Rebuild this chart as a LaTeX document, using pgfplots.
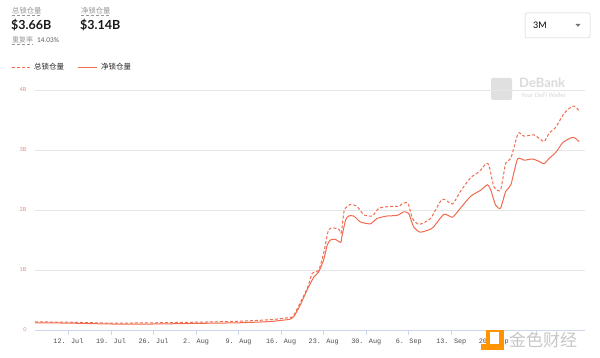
\documentclass[border=0pt]{standalone}
\usepackage{pgfplots}
\pgfplotsset{compat=1.18}
\usepackage{fontspec}
\setmainfont{Lato}
\newfontfamily\cjk{Noto Sans CJK SC}
\newfontfamily\mono{Liberation Mono}
\definecolor{tvlcol}{RGB}{240,108,78}
\definecolor{ylab}{RGB}{232,140,130}
\definecolor{gridc}{RGB}{230,230,230}
\definecolor{axc}{RGB}{204,214,235}
\definecolor{hgray}{RGB}{150,150,150}
\begin{document}
\begin{tikzpicture}[x=1pt,y=1pt]
\useasboundingbox (0,0) rectangle (600,358);
\fill[white] (0,0) rectangle (600,358);
% header
\node[anchor=base west,inner sep=0pt,text=hgray] at (12,344) {\cjk\fontsize{7.3}{8}\selectfont 总锁仓量};
\draw[hgray,densely dashed,line width=0.4pt] (12,342.5) -- (41,342.5);
\node[anchor=base west,inner sep=0pt,text=hgray] at (81,344) {\cjk\fontsize{7.3}{8}\selectfont 净锁仓量};
\draw[hgray,densely dashed,line width=0.4pt] (81,342.5) -- (110,342.5);
\node[anchor=base west,inner sep=0pt,text=black!90] at (11,328) {\fontsize{12.5}{15}\selectfont\bfseries\$3.66B};
\node[anchor=base west,inner sep=0pt,text=black!90] at (80,328) {\fontsize{12.5}{15}\selectfont\bfseries\$3.14B};
\node[anchor=base west,inner sep=0pt,text=hgray] at (12,315) {\cjk\fontsize{7}{8}\selectfont 重复率};
\draw[hgray,densely dashed,line width=0.4pt] (12,313.5) -- (33,313.5);
\node[anchor=base west,inner sep=0pt,text=black!65] at (37,315.5) {\fontsize{6.5}{8}\selectfont 14.03\%};
% legend
\draw[tvlcol,line width=1.3pt,dash pattern=on 3pt off 2pt] (12,290.5) -- (31,290.5);
\node[anchor=west,inner sep=0pt,text=black!85] at (34,291) {\cjk\fontsize{7.5}{8}\selectfont 总锁仓量};
\draw[tvlcol,line width=1.3pt] (78,290.5) -- (97,290.5);
\node[anchor=west,inner sep=0pt,text=black!85] at (101,291) {\cjk\fontsize{7.5}{8}\selectfont 净锁仓量};
% 3M selector
\draw[black!18,rounded corners=2pt,line width=0.5pt] (525,320) rectangle (590,345);
\node[anchor=west,inner sep=0pt] at (533,332.5) {\fontsize{9}{10}\selectfont 3M};
\fill[black!55] (575.5,334) -- (580.5,334) -- (578,331.2) -- cycle;
% DeBank watermark
\fill[black!12,rounded corners=2pt] (491,258) rectangle (512,280);
\node[anchor=base west,inner sep=0pt,text=black!14] at (519,270) {\fontsize{13}{15}\selectfont\bfseries DeBank};
\node[anchor=base west,inner sep=0pt,text=black!16] at (521,260) {\fontsize{6}{7}\selectfont Your DeFi Wallet};
\begin{axis}[
  at={(35pt,28pt)}, anchor=south west,
  scale only axis, width=550pt, height=240pt,
  xmin=-5.5, xmax=85, ymin=0, ymax=4,
  axis x line*=bottom, axis y line*=left,
  x axis line style={draw=axc,line width=0.6pt},
  y axis line style={draw=none},
  ytick={0,1,2,3,4}, yticklabels={0,1B,2B,3B,4B},
  ytick style={draw=none},
  yticklabel style={text=ylab,font=\fontsize{5.5}{6}\selectfont},
  ymajorgrids, grid style={gridc,line width=0.6pt},
  xtick={0,7,...,77},
  xticklabels={12. Jul,19. Jul,26. Jul,2. Aug,9. Aug,16. Aug,23. Aug,30. Aug,6. Sep,13. Sep,20. Sep,{}},
  xticklabel style={text=black!70,font=\mono\fontsize{6.8}{8}\selectfont},
  x tick style={draw=axc,line width=0.6pt},
  tick align=outside, major tick length=5pt,
  xtick pos=bottom,
  clip=false,
]
\addplot[color=tvlcol,line width=1pt,dash pattern=on 3pt off 2pt,smooth,tension=0.35] coordinates {
(-5.5,0.135) (0,0.13) (7,0.115) (14,0.12) (21,0.13) (28,0.145) (33,0.17) (35,0.19) (36.5,0.21) (37.1,0.245)
(39.28,0.69) (40.1,0.94) (41.19,1.0) (42.0,1.28) (42.8,1.67) (43.65,1.7) (44.5,1.68) (44.9,1.62)
(45.4,2.0) (46.4,2.09) (47.5,2.06) (48.6,1.92) (50.0,1.9) (51.1,2.03) (53.0,2.06) (54.4,2.06)
(54.95,2.11) (55.9,2.11) (56.6,1.86) (57.7,1.76) (59.6,1.86) (61.5,2.18) (63.2,2.1) (64.5,2.31)
(66.2,2.54) (67.6,2.64) (68.7,2.77) (69.2,2.75) (70.0,2.39) (71.1,2.33) (71.95,2.78) (72.8,2.86)
(74.0,3.28) (75.0,3.23) (76.65,3.25) (78.25,3.14) (79.1,3.28) (80.2,3.38) (81.55,3.61) (82.9,3.73)
(83.4,3.72) (84.0,3.66)
};
\addplot[color=tvlcol,line width=1pt,smooth,tension=0.35] coordinates {
(-5.5,0.12) (0,0.115) (7,0.10) (14,0.10) (21,0.11) (28,0.12) (33,0.14) (35,0.16) (36.5,0.18) (37.07,0.22)
(38.17,0.42) (39.28,0.67) (40.37,0.88) (41.19,0.97) (42.0,1.17) (42.6,1.42) (43.1,1.5) (43.9,1.51)
(44.8,1.46) (45.0,1.56) (45.6,1.83) (46.1,1.9) (46.95,1.9) (48.05,1.8) (49.7,1.77) (50.8,1.86)
(52.45,1.9) (54.1,1.91) (55.2,1.97) (56.0,1.94) (56.8,1.72) (57.9,1.63) (59.6,1.68) (60.1,1.72)
(61.8,1.93) (63.2,1.88) (64.5,2.03) (66.2,2.23) (67.85,2.33) (68.95,2.42) (69.5,2.33) (70.3,2.08)
(71.1,2.03) (71.95,2.31) (72.8,2.42) (73.9,2.85) (75.0,2.83) (76.35,2.85) (77.45,2.81) (78.25,2.77)
(79.1,2.86) (80.2,2.96) (81.3,3.12) (82.4,3.19) (83.2,3.21) (84.0,3.14)
};
\end{axis}
% 金色财经 watermark
\fill[orange!85!yellow] (486,8) rectangle (504,28);
\fill[white] (490,14) rectangle (499,26);
\fill[orange!85!yellow] (481,8) rectangle (487,14);
\node[anchor=base west,inner sep=0pt,text=black!22] at (509,11) {\cjk\fontsize{17}{18}\selectfont 金色财经};
\end{tikzpicture}
\end{document}
